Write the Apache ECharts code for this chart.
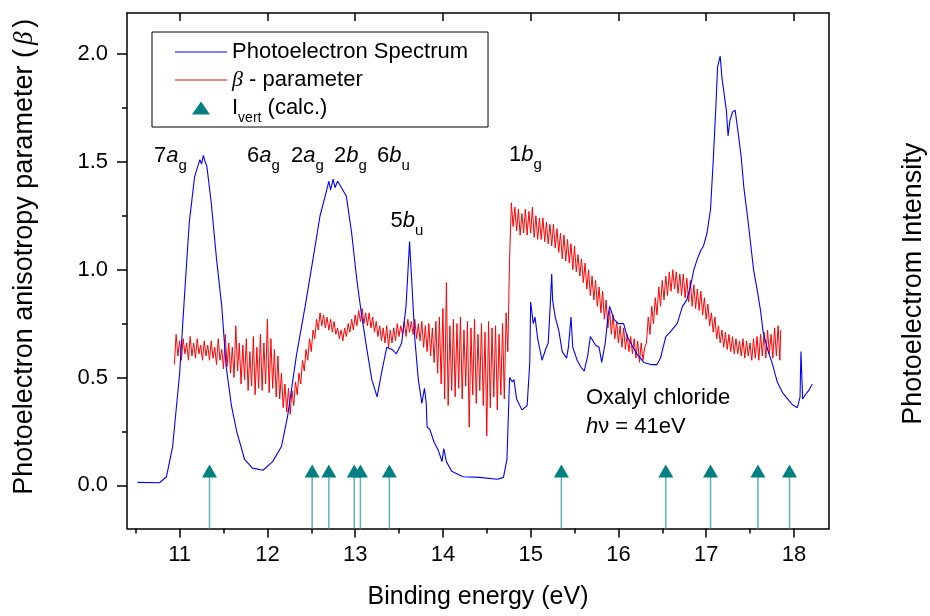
<!DOCTYPE html>
<html><head><meta charset="utf-8">
<script src="https://cdn.jsdelivr.net/npm/echarts@6/dist/echarts.min.js"></script>
<style>html,body{margin:0;padding:0;background:#fff}#c{width:930px;height:616px}</style>
</head><body><div id="c"></div>
<script>
const FONT = '"Liberation Sans", Arial, Helvetica, sans-serif';
const SERIF = '"Liberation Serif", "Times New Roman", serif';

// axis ticks
const xTicks = [11, 12, 13, 14, 15, 16, 17, 18];
const xMinorTicks = [10.5, 11.5, 12.5, 13.5, 14.5, 15.5, 16.5, 17.5];
const yTicks = [0, 0.5, 1.0, 1.5, 2.0];
const yMinorTicks = [0.25, 0.75, 1.25, 1.75];

// photoelectron spectrum (binding energy eV, intensity arb. units on beta scale)
const spectrum = [
[10.52,0.014],[10.77,0.012],[10.85,0.04],[10.92,0.18],[11.00,0.52],[11.06,0.91],[11.11,1.22],[11.17,1.43],[11.23,1.51],[11.25,1.49],[11.27,1.53],[11.29,1.50],[11.31,1.48],[11.36,1.31],[11.42,1.05],[11.48,0.83],[11.53,0.55],[11.59,0.37],[11.65,0.25],[11.74,0.12],[11.83,0.08],[11.95,0.07],[12.06,0.11],[12.16,0.18],[12.23,0.32],[12.33,0.60],[12.43,0.83],[12.52,1.05],[12.60,1.25],[12.67,1.36],[12.70,1.41],[12.72,1.37],[12.75,1.42],[12.77,1.38],[12.80,1.41],[12.83,1.39],[12.90,1.34],[12.96,1.17],[13.02,0.95],[13.07,0.80],[13.13,0.64],[13.19,0.49],[13.25,0.41],[13.30,0.52],[13.36,0.64],[13.42,0.63],[13.47,0.61],[13.53,0.66],[13.58,0.83],[13.62,1.13],[13.65,0.91],[13.68,0.68],[13.72,0.49],[13.76,0.38],[13.79,0.45],[13.81,0.38],[13.82,0.27],[13.85,0.26],[13.90,0.20],[13.95,0.16],[13.99,0.11],[14.01,0.17],[14.04,0.11],[14.10,0.065],[14.23,0.04],[14.42,0.037],[14.62,0.028],[14.69,0.037],[14.73,0.12],[14.76,0.50],[14.79,0.48],[14.81,0.49],[14.84,0.40],[14.90,0.35],[14.96,0.37],[14.99,0.57],[15.00,0.85],[15.03,0.75],[15.05,0.78],[15.08,0.68],[15.13,0.58],[15.17,0.63],[15.20,0.66],[15.22,0.81],[15.24,0.98],[15.25,0.86],[15.28,0.78],[15.32,0.72],[15.36,0.62],[15.41,0.59],[15.43,0.64],[15.46,0.78],[15.48,0.64],[15.53,0.58],[15.57,0.55],[15.61,0.53],[15.65,0.60],[15.68,0.69],[15.74,0.65],[15.78,0.64],[15.81,0.57],[15.85,0.66],[15.88,0.78],[15.90,0.83],[15.95,0.77],[16.00,0.75],[16.06,0.75],[16.10,0.69],[16.14,0.66],[16.21,0.61],[16.29,0.57],[16.37,0.56],[16.44,0.56],[16.48,0.59],[16.54,0.69],[16.59,0.71],[16.67,0.75],[16.73,0.83],[16.78,0.86],[16.82,0.92],[16.86,1.00],[16.90,1.05],[16.94,1.09],[16.97,1.11],[17.01,1.17],[17.05,1.28],[17.08,1.50],[17.11,1.75],[17.13,1.94],[17.16,1.99],[17.18,1.89],[17.20,1.83],[17.23,1.74],[17.25,1.62],[17.27,1.69],[17.30,1.73],[17.33,1.74],[17.36,1.65],[17.40,1.52],[17.43,1.38],[17.47,1.25],[17.51,1.11],[17.54,1.00],[17.58,0.91],[17.62,0.81],[17.65,0.71],[17.70,0.63],[17.75,0.57],[17.81,0.48],[17.87,0.43],[17.93,0.40],[17.98,0.375],[18.04,0.36],[18.07,0.41],[18.08,0.62],[18.10,0.40],[18.13,0.42],[18.17,0.44],[18.21,0.47]
];

// beta parameter (binding energy eV, beta)
const beta = [
[10.94,0.56],[10.96,0.70],[10.98,0.60],[11.00,0.67],[11.02,0.58],[11.04,0.68],[11.06,0.61],[11.08,0.66],[11.10,0.58],[11.12,0.69],
[11.14,0.60],[11.16,0.66],[11.18,0.59],[11.20,0.68],[11.22,0.61],[11.24,0.65],[11.26,0.58],[11.28,0.67],[11.30,0.60],[11.32,0.65],
[11.34,0.58],[11.36,0.67],[11.38,0.59],[11.40,0.64],[11.42,0.56],[11.44,0.68],[11.46,0.58],[11.48,0.63],[11.50,0.54],[11.52,0.70],
[11.54,0.55],[11.56,0.66],[11.58,0.52],[11.60,0.64],[11.62,0.50],[11.64,0.74],[11.66,0.53],[11.68,0.66],[11.70,0.47],[11.72,0.65],
[11.74,0.49],[11.76,0.68],[11.78,0.44],[11.80,0.62],[11.82,0.46],[11.84,0.69],[11.86,0.42],[11.88,0.64],[11.90,0.45],[11.92,0.70],
[11.94,0.44],[11.96,0.66],[11.98,0.47],[12.00,0.77],[12.02,0.43],[12.04,0.68],[12.06,0.45],[12.08,0.63],[12.10,0.41],[12.12,0.60],
[12.14,0.40],[12.16,0.52],[12.18,0.36],[12.20,0.47],[12.22,0.34],[12.24,0.45],[12.26,0.33],[12.28,0.44],[12.30,0.37],[12.32,0.48],
[12.34,0.42],[12.36,0.52],[12.38,0.47],[12.40,0.58],[12.42,0.53],[12.44,0.63],[12.46,0.58],[12.48,0.68],[12.50,0.62],[12.52,0.72],
[12.54,0.68],[12.56,0.77],[12.58,0.72],[12.60,0.80],[12.62,0.74],[12.64,0.79],[12.66,0.73],[12.68,0.78],[12.70,0.72],[12.72,0.77],
[12.74,0.71],[12.76,0.76],[12.78,0.70],[12.80,0.73],[12.82,0.68],[12.84,0.72],[12.86,0.67],[12.88,0.73],[12.90,0.69],[12.92,0.75],
[12.94,0.71],[12.96,0.77],[12.98,0.72],[13.00,0.79],[13.02,0.74],[13.04,0.81],[13.06,0.76],[13.08,0.82],[13.10,0.75],[13.12,0.80],
[13.14,0.74],[13.16,0.80],[13.18,0.73],[13.20,0.78],[13.22,0.71],[13.24,0.76],[13.26,0.69],[13.28,0.74],[13.30,0.67],[13.32,0.73],
[13.34,0.66],[13.36,0.74],[13.38,0.64],[13.40,0.72],[13.42,0.66],[13.44,0.73],[13.46,0.67],[13.48,0.75],[13.50,0.69],[13.52,0.74],
[13.54,0.70],[13.56,0.76],[13.58,0.69],[13.60,0.77],[13.62,0.71],[13.64,0.76],[13.66,0.70],[13.68,0.77],[13.70,0.68],[13.72,0.75],
[13.74,0.67],[13.76,0.76],[13.78,0.64],[13.80,0.74],[13.82,0.62],[13.84,0.75],[13.86,0.60],[13.88,0.73],[13.90,0.57],[13.92,0.76],
[13.94,0.52],[13.96,0.78],[13.98,0.47],[14.00,0.82],[14.02,0.40],[14.04,0.94],[14.06,0.37],[14.08,0.74],[14.10,0.44],[14.12,0.77],
[14.14,0.41],[14.16,0.75],[14.18,0.45],[14.20,0.78],[14.22,0.40],[14.24,0.72],[14.26,0.46],[14.28,0.76],[14.30,0.27],[14.32,0.73],
[14.34,0.42],[14.36,0.77],[14.38,0.38],[14.40,0.70],[14.42,0.44],[14.44,0.75],[14.46,0.37],[14.48,0.71],[14.50,0.23],[14.52,0.76],
[14.54,0.36],[14.56,0.73],[14.58,0.41],[14.60,0.74],[14.62,0.35],[14.64,0.70],[14.66,0.42],[14.68,0.75],[14.70,0.40],[14.72,0.80],
[14.74,0.62],[14.76,1.05],[14.78,1.31],[14.80,1.20],[14.82,1.29],[14.84,1.18],[14.86,1.28],[14.88,1.16],[14.90,1.26],[14.92,1.17],
[14.94,1.28],[14.96,1.16],[14.98,1.27],[15.00,1.17],[15.02,1.29],[15.04,1.15],[15.06,1.25],[15.08,1.14],[15.10,1.24],[15.12,1.14],
[15.14,1.24],[15.16,1.13],[15.18,1.22],[15.20,1.12],[15.22,1.21],[15.24,1.11],[15.26,1.21],[15.28,1.10],[15.30,1.19],[15.32,1.08],
[15.34,1.17],[15.36,1.05],[15.38,1.16],[15.40,1.04],[15.42,1.14],[15.44,1.03],[15.46,1.12],[15.48,1.00],[15.50,1.11],[15.52,0.99],
[15.54,1.07],[15.56,0.97],[15.58,1.05],[15.60,0.94],[15.62,1.03],[15.64,0.91],[15.66,1.00],[15.68,0.88],[15.70,0.97],[15.72,0.86],
[15.74,0.95],[15.76,0.83],[15.78,0.92],[15.80,0.80],[15.82,0.90],[15.84,0.77],[15.86,0.86],[15.88,0.73],[15.90,0.81],[15.92,0.70],
[15.94,0.79],[15.96,0.68],[15.98,0.76],[16.00,0.66],[16.02,0.74],[16.04,0.64],[16.06,0.73],[16.08,0.63],[16.10,0.70],[16.12,0.62],
[16.14,0.69],[16.16,0.61],[16.18,0.68],[16.20,0.59],[16.22,0.67],[16.24,0.57],[16.26,0.66],[16.28,0.58],[16.30,0.64],[16.32,0.66],
[16.34,0.78],[16.36,0.70],[16.38,0.83],[16.40,0.75],[16.42,0.87],[16.44,0.79],[16.46,0.92],[16.48,0.83],[16.50,0.95],[16.52,0.86],
[16.54,0.97],[16.56,0.88],[16.58,0.99],[16.60,0.90],[16.62,1.00],[16.64,0.91],[16.66,0.99],[16.68,0.89],[16.70,0.98],[16.72,0.88],
[16.74,0.98],[16.76,0.87],[16.78,0.96],[16.80,0.85],[16.82,0.95],[16.84,0.83],[16.86,0.93],[16.88,0.82],[16.90,0.91],[16.92,0.81],
[16.94,0.90],[16.96,0.79],[16.98,0.87],[17.00,0.77],[17.02,0.84],[17.04,0.74],[17.06,0.80],[17.08,0.71],[17.10,0.78],[17.12,0.68],
[17.14,0.74],[17.16,0.66],[17.18,0.72],[17.20,0.64],[17.22,0.71],[17.24,0.63],[17.26,0.70],[17.28,0.62],[17.30,0.69],[17.32,0.61],
[17.34,0.68],[17.36,0.61],[17.38,0.67],[17.40,0.60],[17.42,0.68],[17.44,0.59],[17.46,0.67],[17.48,0.60],[17.50,0.66],[17.52,0.58],
[17.54,0.68],[17.56,0.59],[17.58,0.69],[17.60,0.58],[17.62,0.70],[17.64,0.60],[17.66,0.71],[17.68,0.59],[17.70,0.72],[17.72,0.61],
[17.74,0.70],[17.76,0.59],[17.78,0.73],[17.80,0.60],[17.82,0.74],[17.84,0.58],[17.85,0.72]
];

// calculated vertical ionisation energies (eV) and marker height
const ivertEnergies = [11.34, 12.51, 12.70, 12.99, 13.06, 13.39, 15.35, 16.54, 17.05, 17.59, 17.95];
const ivertLevel = 0.067;

const X_MIN = 10.4, X_MAX = 18.4, Y_MIN = -0.2, Y_MAX = 2.19;

const legendText = {
  'Photoelectron Spectrum': 'Photoelectron Spectrum',
  'β - parameter': '{b|β} - parameter',
  'Ivert (calc.)': 'I{s|vert} (calc.)'
};

const baseTok = {fontSize: 22, fontFamily: FONT, fill: '#000', lineHeight: 24};
const labelRich = {
  n: baseTok,
  i: Object.assign({}, baseTok, {fontStyle: 'italic'}),
  s: {fontSize: 15, fontFamily: FONT, fill: '#000', lineHeight: 15, padding: [20, 0, 0, 0]}
};
function annot(x, y, text) {
  return {type: 'text', x: x, y: y, z: 50,
    style: {text: text, rich: labelRich, fill: '#000', fontSize: 22, fontFamily: FONT,
      align: 'left', verticalAlign: 'middle', textAlign: 'left', textVerticalAlign: 'middle'}};
}

const chart = echarts.init(document.getElementById('c'), null, {renderer: 'canvas'});
const axisLineStyle = {color: '#000', width: 1.5};

chart.setOption({
  animation: false,
  backgroundColor: '#fff',
  textStyle: {fontFamily: FONT},
  grid: {left: 127, top: 13, right: 101, bottom: 87.5, containLabel: false, outerBoundsMode: 'none'},
  xAxis: [
    {type: 'value', position: 'bottom', min: X_MIN, max: X_MAX,
      axisLine: {show: true, onZero: false, lineStyle: axisLineStyle},
      axisTick: {show: true, customValues: xTicks, length: 9, inside: false, lineStyle: axisLineStyle},
      axisLabel: {show: true, customValues: xTicks, fontSize: 22, fontFamily: FONT, color: '#000', margin: 15,
        formatter: v => String(Math.round(v))},
      splitLine: {show: false},
      name: 'Binding energy (eV)', nameLocation: 'middle', nameGap: 56,
      nameTextStyle: {fontSize: 25, fontFamily: FONT, color: '#000'}},
    {type: 'value', position: 'bottom', min: X_MIN, max: X_MAX,
      axisLine: {show: false, onZero: false},
      axisTick: {show: true, customValues: xMinorTicks, length: 5, inside: false, lineStyle: axisLineStyle},
      axisLabel: {show: false}, splitLine: {show: false}},
    {type: 'value', position: 'top', min: X_MIN, max: X_MAX,
      axisLine: {show: true, onZero: false, lineStyle: axisLineStyle},
      axisTick: {show: true, customValues: xTicks, length: 8, inside: true, lineStyle: axisLineStyle},
      axisLabel: {show: false}, splitLine: {show: false}}
  ],
  yAxis: [
    {type: 'value', position: 'left', min: Y_MIN, max: Y_MAX,
      axisLine: {show: true, onZero: false, lineStyle: axisLineStyle},
      axisTick: {show: true, customValues: yTicks, length: 10, inside: false, lineStyle: axisLineStyle},
      axisLabel: {show: true, customValues: yTicks, fontSize: 22, fontFamily: FONT, color: '#000', margin: 19,
        formatter: v => v.toFixed(1)},
      splitLine: {show: false},
      name: 'Photoelectron anisotropy parameter ({b|β})', nameLocation: 'middle', nameGap: 89,
      nameTextStyle: {fontSize: 27, fontFamily: FONT, color: '#000', padding: [0, 0, 0, 28],
        rich: {b: {fontSize: 27, fontFamily: SERIF, fontStyle: 'italic', color: '#000', padding: [0, 4, 0, 4]}}}},
    {type: 'value', position: 'left', min: Y_MIN, max: Y_MAX,
      axisLine: {show: false, onZero: false},
      axisTick: {show: true, customValues: yMinorTicks, length: 5, inside: false, lineStyle: axisLineStyle},
      axisLabel: {show: false}, splitLine: {show: false}},
    {type: 'value', position: 'right', min: Y_MIN, max: Y_MAX,
      axisLine: {show: true, onZero: false, lineStyle: axisLineStyle},
      axisTick: {show: false}, axisLabel: {show: false}, splitLine: {show: false},
      name: 'Photoelectrom Intensity', nameLocation: 'middle', nameGap: 71,
      nameTextStyle: {fontSize: 27, fontFamily: FONT, color: '#000', padding: [0, 26, 0, 0]}}
  ],
  legend: {
    orient: 'vertical', left: 152, top: 32,
    padding: [1, 20, 0, 23],
    borderColor: '#000', borderWidth: 1, borderRadius: 0,
    itemWidth: 52, itemHeight: 13, itemGap: -10,
    selectedMode: false,
    symbolKeepAspect: true,
    data: [
      {name: 'Photoelectron Spectrum', icon: 'path://M0,0 L52,0 L52,1.2 L0,1.2 Z'},
      {name: 'β - parameter', icon: 'path://M0,0 L52,0 L52,1.2 L0,1.2 Z'},
      {name: 'Ivert (calc.)', icon: 'path://M9,0 L18,13 L0,13 Z', itemStyle: {color: '#008080', opacity: 1}}
    ],
    formatter: name => legendText[name],
    textStyle: {fontSize: 22, fontFamily: FONT, color: '#000', lineHeight: 38,
      rich: {
        b: {fontSize: 22, fontFamily: SERIF, fontStyle: 'italic', color: '#000', lineHeight: 24},
        s: {fontSize: 14, fontFamily: FONT, color: '#000', lineHeight: 14, padding: [21, 0, 0, 0]}
      }}
  },
  series: [
    {name: 'Ivert lines', type: 'custom', xAxisIndex: 0, yAxisIndex: 0, z: 3,
      data: ivertEnergies.map(e => [e, ivertLevel]),
      renderItem: function (params, api) {
        const top = api.coord([api.value(0), api.value(1)]);
        const bot = api.coord([api.value(0), Y_MIN]);
        return {type: 'line', shape: {x1: bot[0], y1: bot[1], x2: top[0], y2: top[1]},
          style: {stroke: '#5fb3b3', lineWidth: 1.5}};
      }},
    {name: 'β - parameter', type: 'line', xAxisIndex: 0, yAxisIndex: 0, data: beta,
      symbol: 'none', showSymbol: false, color: '#ff0000',
      lineStyle: {color: '#ff0000', width: 1}, z: 4},
    {name: 'Photoelectron Spectrum', type: 'line', xAxisIndex: 0, yAxisIndex: 2, data: spectrum,
      symbol: 'none', showSymbol: false, color: '#0000ff',
      lineStyle: {color: '#0000ff', width: 1.1}, z: 5},
    {name: 'Ivert (calc.)', type: 'scatter', xAxisIndex: 0, yAxisIndex: 0,
      data: ivertEnergies.map(e => [e, ivertLevel]),
      symbol: 'triangle', symbolSize: [15, 13], color: '#008080',
      itemStyle: {color: '#008080', opacity: 1}, z: 6}
  ],
  graphic: [
    annot(154, 156, '{n|7}{i|a}{s|g}'),
    annot(247, 156, '{n|6}{i|a}{s|g}'),
    annot(291, 156, '{n|2}{i|a}{s|g}'),
    annot(334, 156, '{n|2}{i|b}{s|g}'),
    annot(377, 156, '{n|6}{i|b}{s|u}'),
    annot(509, 155, '{n|1}{i|b}{s|g}'),
    annot(390.5, 221, '{n|5}{i|b}{s|u}'),
    annot(586, 398, '{n|Oxalyl chloride}'),
    annot(586, 426.5, '{i|h}{n|ν = 41eV}')
  ]
});
</script></body></html>
